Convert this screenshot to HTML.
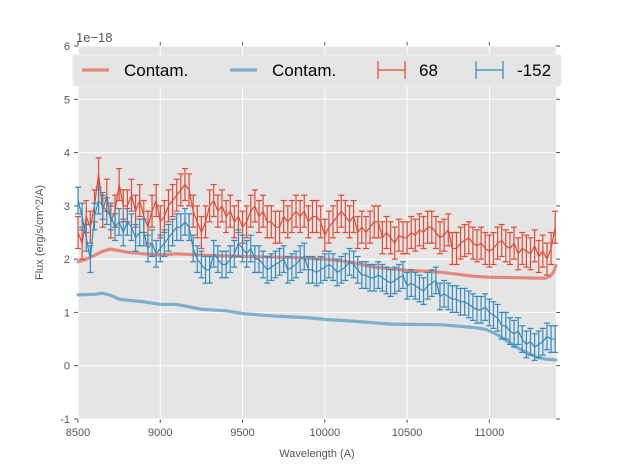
<!DOCTYPE html>
<html><head><meta charset="utf-8"><style>
body{margin:0;background:#fff}
svg{display:block;font-family:"Liberation Sans",sans-serif}
</style></head><body>
<svg id="chart" width="617" height="467"></svg>
<script>
const redX0 = 8500, step = 25;
const redFlux = [2.5,2.3,2.8,2.6,3.0,3.6,2.9,3.2,2.7,2.9,3.4,3.0,3.0,3.2,2.9,3.1,2.8,2.6,2.9,3.1,2.7,2.8,3.0,3.1,3.2,3.3,3.4,3.3,2.9,2.7,2.5,2.7,3.0,3.1,2.9,3.0,2.8,2.9,2.7,2.8,2.6,2.7,2.9,3.0,2.8,2.9,2.7,2.7,2.6,2.6,2.8,2.7,2.8,2.9,2.8,2.9,2.7,2.8,2.8,2.7,2.45,2.6,2.7,2.8,2.9,2.8,2.7,2.8,2.5,2.6,2.5,2.6,2.7,2.7,2.4,2.5,2.4,2.3,2.45,2.4,2.4,2.5,2.45,2.55,2.5,2.6,2.6,2.5,2.4,2.45,2.55,2.2,2.2,2.3,2.35,2.4,2.3,2.25,2.3,2.2,2.15,2.2,2.3,2.35,2.25,2.2,2.3,2.1,2.2,2.15,2.1,2.25,2.05,2.15,2.0,2.2,2.6];
const blueFlux = [3.1,2.8,2.4,2.0,2.8,3.1,3.0,2.9,2.8,2.6,2.7,2.5,2.7,2.6,2.4,2.5,2.5,2.2,2.3,2.1,2.2,2.3,2.4,2.5,2.6,2.6,2.7,2.6,2.2,2.0,1.9,1.8,1.8,2.1,2.0,1.9,1.9,2.0,2.1,2.3,2.2,2.1,2.2,2.0,2.0,1.9,1.8,1.85,1.9,1.95,2.0,1.8,1.85,1.9,2.0,2.05,1.8,1.8,1.75,1.8,1.85,1.9,1.85,1.75,1.8,1.85,1.95,1.9,1.8,1.7,1.7,1.65,1.65,1.7,1.65,1.6,1.55,1.6,1.65,1.7,1.5,1.55,1.5,1.45,1.4,1.5,1.55,1.6,1.3,1.35,1.3,1.25,1.25,1.2,1.2,1.15,1.1,1.05,1.05,1.1,1.0,0.95,0.9,0.75,0.75,0.65,0.6,0.65,0.5,0.4,0.45,0.35,0.4,0.45,0.55,0.5,0.5];
const redErr = 0.3, blueErr = 0.25;
const contamX = [8500,8550,8600,8650,8700,8750,8800,8900,9000,9100,9300,9500,9800,10000,10150,10300,10500,10650,10800,10900,11000,11200,11340,11370,11390,11405];
const contamRed = [1.95,2.0,2.07,2.15,2.19,2.16,2.13,2.1,2.08,2.1,2.07,2.05,2.03,2.0,1.95,1.85,1.79,1.77,1.72,1.68,1.66,1.65,1.64,1.68,1.76,1.88];
const contamBX = [8500,8600,8650,8700,8750,8800,8900,9000,9100,9200,9250,9400,9500,9700,9900,10000,10200,10400,10700,10900,10980,11050,11100,11150,11200,11250,11300,11350,11405];
const contamBlue = [1.33,1.34,1.36,1.32,1.25,1.23,1.2,1.15,1.15,1.09,1.06,1.03,0.98,0.93,0.9,0.87,0.83,0.78,0.77,0.72,0.68,0.58,0.48,0.38,0.29,0.21,0.15,0.12,0.11];
const xTicks = [8500,9000,9500,10000,10500,11000];
const yTicks = [-1,0,1,2,3,4,5,6];

const L=78,R=556,T=46,B=419, xmin=8500,xmax=11405,ymin=-1,ymax=6;
const sx=v=>L+(v-xmin)/(xmax-xmin)*(R-L);
const sy=v=>B-(v-ymin)/(ymax-ymin)*(B-T);
const svg=document.getElementById('chart');
const NS='http://www.w3.org/2000/svg';
function mk(tag,attrs,parent){const e=document.createElementNS(NS,tag);for(const k in attrs)e.setAttribute(k,attrs[k]);(parent||svg).appendChild(e);return e;}

const bg=mk('rect',{x:L,y:T,width:R-L,height:B-T,fill:'#e5e5e5'});


xTicks.forEach(t=>{
  const g=mk('line',{x1:sx(t),x2:sx(t),y1:T,y2:B,stroke:'#fff','stroke-width':1});
  
  
  mk('line',{x1:sx(t),x2:sx(t),y1:B,y2:B+4,stroke:'#555'});
  mk('line',{x1:sx(t),x2:sx(t),y1:T,y2:T-4,stroke:'#555'});
  const tx=mk('text',{x:sx(t),y:B+17,'text-anchor':'middle','font-size':11,fill:'#555'});
  tx.textContent=t;
  
  
});
yTicks.forEach(t=>{
  const g=mk('line',{x1:L,x2:R,y1:sy(t),y2:sy(t),stroke:'#fff','stroke-width':1});
  
  
  mk('line',{x1:L-4,x2:L,y1:sy(t),y2:sy(t),stroke:'#555'});
  mk('line',{x1:R,x2:R+4,y1:sy(t),y2:sy(t),stroke:'#555'});
  const tx=mk('text',{x:L-8,y:sy(t)+4,'text-anchor':'end','font-size':11,fill:'#555'});
  tx.textContent=t;
  
  
});

function line(xs,ys,color,name){
  const p=mk('polyline',{points:xs.map((x,i)=>sx(x)+','+sy(ys[i])).join(' '),fill:'none',stroke:color,'stroke-width':3.2,'stroke-opacity':0.6,'stroke-linejoin':'round','stroke-linecap':'round'});
  
  
}
line(contamX,contamRed,'#e24a33','contam-line-68');
line(contamBX,contamBlue,'#348abd','contam-line-152');

function errSeries(vals,err,color,name){
  const g=mk('g',{stroke:color,'stroke-width':1.2,fill:'none'});
  
  
  const xs=vals.map((v,i)=>redX0+i*step);
  xs.forEach((x,i)=>{
    const X=sx(x),y1=sy(vals[i]-err),y2=sy(vals[i]+err);
    mk('line',{x1:X,x2:X,y1:y1,y2:y2},g);
    mk('line',{x1:X-3,x2:X+3,y1:y1,y2:y1},g);
    mk('line',{x1:X-3,x2:X+3,y1:y2,y2:y2},g);
  });
  mk('polyline',{points:xs.map((x,i)=>sx(x)+','+sy(vals[i])).join(' ')},g);
}
errSeries(redFlux,redErr,'#e24a33','errorbar-series-68');
errSeries(blueFlux,blueErr,'#348abd','errorbar-series-152');

const ex=mk('text',{x:76,y:42,'font-size':13,fill:'#555'});ex.textContent='1e\u221218';


const xl=mk('text',{x:(L+R)/2,y:457,'text-anchor':'middle','font-size':11,fill:'#555'});xl.textContent='Wavelength (A)';


const yl=mk('text',{x:0,y:0,'text-anchor':'middle','font-size':11,fill:'#555',transform:'translate(43,'+((T+B)/2)+') rotate(-90)'});yl.textContent='Flux (erg/s/cm^2/A)';



const lg=mk('g',{});


mk('rect',{x:73,y:55,width:488,height:31,fill:'#e5e5e5',stroke:'#f0f0f0'},lg);
mk('line',{x1:82,x2:109,y1:70,y2:70,stroke:'#e24a33','stroke-opacity':0.6,'stroke-width':3.2},lg);
mk('line',{x1:230,x2:257,y1:70,y2:70,stroke:'#348abd','stroke-opacity':0.6,'stroke-width':3.2},lg);
[[378,'#e24a33'],[476,'#348abd']].forEach(([x,c])=>{
  mk('line',{x1:x,x2:x+27,y1:70,y2:70,stroke:c,'stroke-width':1.2},lg);
  mk('line',{x1:x,x2:x,y1:61,y2:79,stroke:c,'stroke-width':1.2},lg);
  mk('line',{x1:x+27,x2:x+27,y1:61,y2:79,stroke:c,'stroke-width':1.2},lg);
});
[[124,'Contam.','legend-entry-contam-68'],[272,'Contam.','legend-entry-contam-152'],[419,'68','legend-entry-68'],[517,'-152','legend-entry-152']].forEach(([x,t,n])=>{
  const e=mk('text',{x:x,y:76,'font-size':17,fill:'#000'},lg);e.textContent=t;
  
  
});
</script>
</body></html>
